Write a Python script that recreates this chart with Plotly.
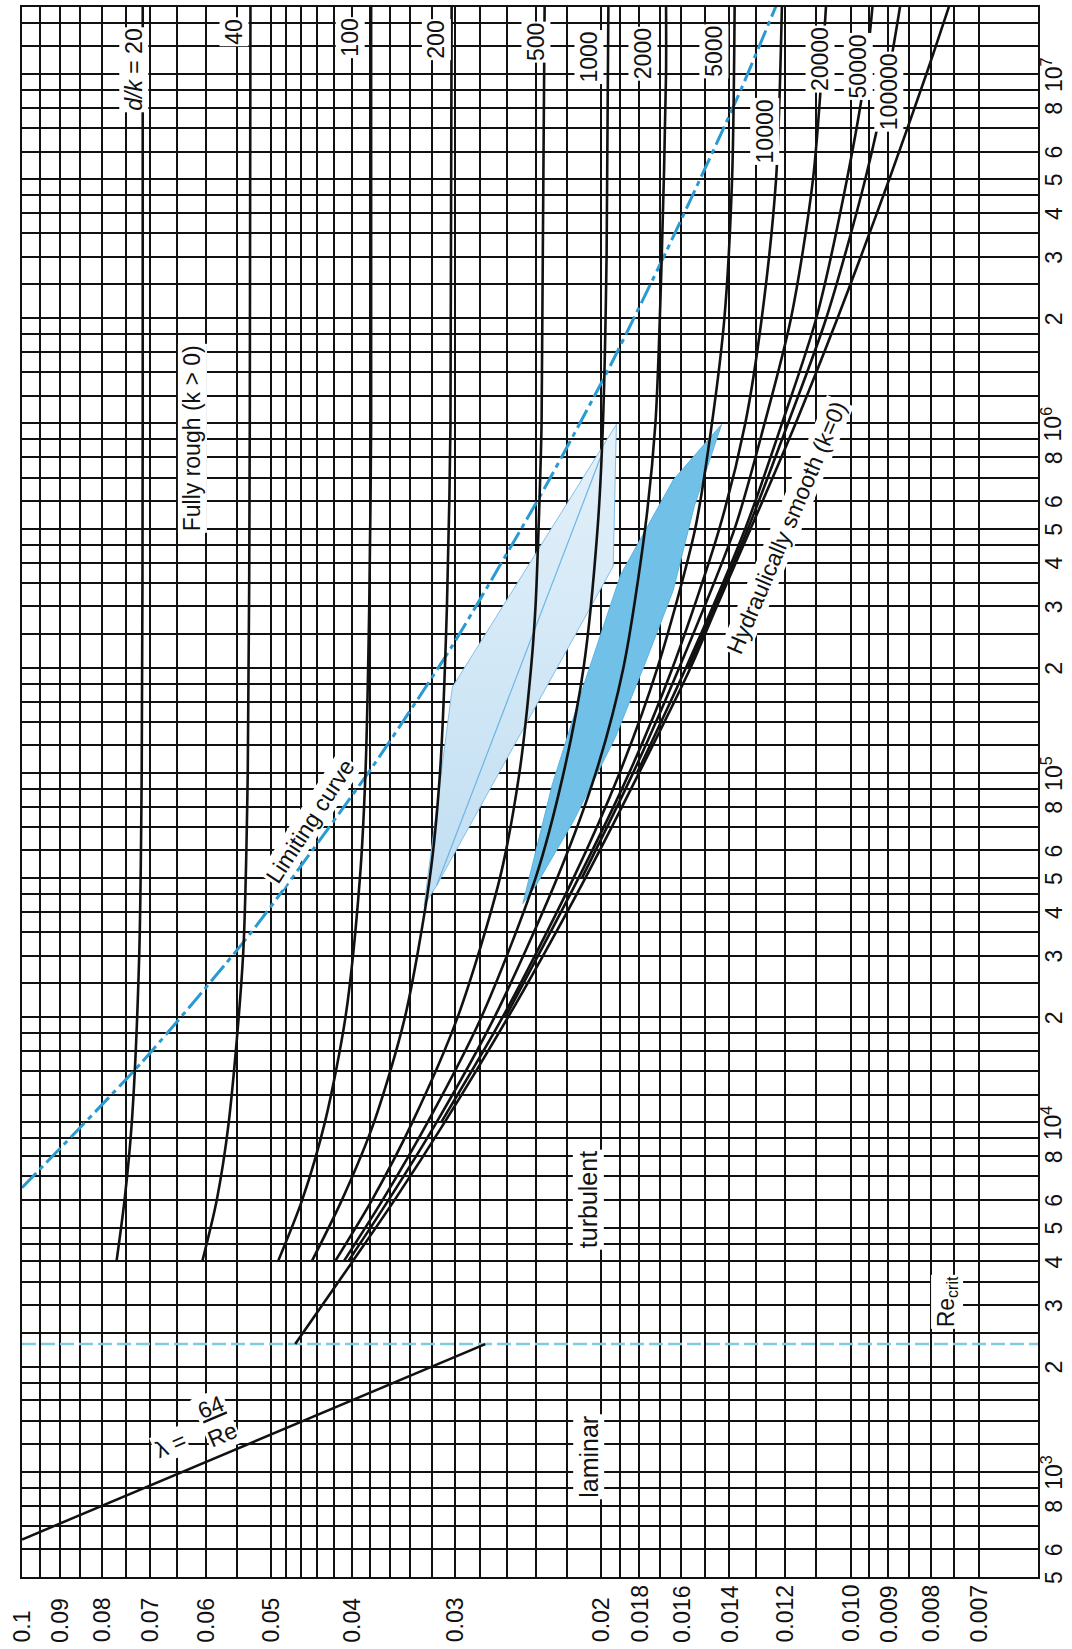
import math
import plotly.graph_objects as go

# ---------------- axis extents ----------------
LAM_LEFT, LAM_RIGHT = 0.1, 0.00594      # friction factor, reversed log axis
RE_BOTTOM, RE_TOP = 500, 1.555e7        # Reynolds number, log axis

# ---------------- grid values ----------------
lam_grid = [0.1, 0.095, 0.09, 0.085, 0.08, 0.075, 0.07, 0.065, 0.06, 0.055, 0.05,
            0.048, 0.046, 0.044, 0.042, 0.04, 0.038, 0.036, 0.034, 0.032, 0.03,
            0.028, 0.026, 0.024, 0.022, 0.02, 0.019, 0.018, 0.017, 0.016, 0.015,
            0.014, 0.013, 0.012, 0.011, 0.010, 0.0095, 0.009, 0.0085, 0.008,
            0.0075, 0.007]
re_grid_mantissa = [1, 1.2, 1.4, 1.6, 1.8, 2, 2.5, 3, 3.5, 4, 4.5, 5, 6, 7, 8, 9]
re_grid_decades = [100, 1000, 10000, 100000, 1000000, 10000000]

# ---------------- tick labels ----------------
lam_tick_vals = [0.1, 0.09, 0.08, 0.07, 0.06, 0.05, 0.04, 0.03, 0.02, 0.018,
                 0.016, 0.014, 0.012, 0.010, 0.009, 0.008, 0.007]
lam_tick_text = ["0.1", "0.09", "0.08", "0.07", "0.06", "0.05", "0.04", "0.03",
                 "0.02", "0.018", "0.016", "0.014", "0.012", "0.010", "0.009",
                 "0.008", "0.007"]
re_tick_vals = [500, 600, 800, 1e3, 2e3, 3e3, 4e3, 5e3, 6e3, 8e3, 1e4,
                2e4, 3e4, 4e4, 5e4, 6e4, 8e4, 1e5, 2e5, 3e5, 4e5, 5e5, 6e5, 8e5,
                1e6, 2e6, 3e6, 4e6, 5e6, 6e6, 8e6, 1e7]
re_tick_text = ["5", "6", "8", "10<sup>3</sup>", "2", "3", "4", "5", "6", "8",
                "10<sup>4</sup>", "2", "3", "4", "5", "6", "8", "10<sup>5</sup>",
                "2", "3", "4", "5", "6", "8", "10<sup>6</sup>", "2", "3", "4", "5",
                "6", "8", "10<sup>7</sup>"]

# ---------------- laminar branch ----------------
re_laminar = [640, 2320]
lam_laminar = [0.1, 0.0276]

# ---------------- critical Reynolds number ----------------
re_crit = 2320

# ---------------- hydraulically smooth pipe ----------------
re_smooth = [2320, 4000, 6000, 1e4, 2e4, 3e4, 5e4, 1e5, 2e5, 3e5, 5e5, 1e6,
             2e6, 3e6, 5e6, 1e7, 1.6e7]
lam_smooth = [0.0468, 0.0399, 0.0355, 0.0309, 0.0259, 0.0235, 0.0209, 0.0180,
              0.0156, 0.0145, 0.0132, 0.01165, 0.01037, 0.00972, 0.00898,
              0.00810, 0.00758]

# ---------------- rough pipes, relative roughness d/k ----------------
re_dk20 = [4000, 6000, 1e4, 3e4, 1e5, 1e6, 1.6e7]
lam_dk20 = [0.0769, 0.0752, 0.0737, 0.0722, 0.0717, 0.0715, 0.0715]

re_dk40 = [4000, 6000, 1e4, 3e4, 1e5, 1e6, 1.6e7]
lam_dk40 = [0.0606, 0.0582, 0.0563, 0.0541, 0.0534, 0.0531, 0.0530]

re_dk100 = [4000, 6000, 1e4, 2e4, 5e4, 1e5, 3e5, 1e6, 1.6e7]
lam_dk100 = [0.0491, 0.0459, 0.0431, 0.0407, 0.0391, 0.0385, 0.0381, 0.0379, 0.0379]

re_dk200 = [4000, 6000, 1e4, 2e4, 5e4, 1e5, 3e5, 1e6, 1.6e7]
lam_dk200 = [0.0447, 0.0411, 0.0376, 0.0345, 0.0322, 0.0313, 0.0307, 0.0304, 0.0303]

re_dk500 = [4000, 6000, 1e4, 2e4, 5e4, 1e5, 2e5, 3e5, 5e5, 1e6, 1.6e7]
lam_dk500 = [0.0419, 0.0378, 0.0338, 0.0298, 0.0265, 0.0251, 0.0243, 0.0240,
             0.0238, 0.0236, 0.0234]

re_dk1000 = [4000, 6000, 1e4, 2e4, 5e4, 1e5, 2e5, 5e5, 1e6, 3e6, 1.6e7]
lam_dk1000 = [0.0409, 0.0367, 0.0324, 0.0279, 0.0240, 0.0222, 0.0210, 0.0202,
              0.0199, 0.0197, 0.0196]

re_dk2000 = [4000, 6000, 1e4, 2e4, 5e4, 1e5, 2e5, 5e5, 1e6, 3e6, 1e7, 1.6e7]
lam_dk2000 = [0.0404, 0.0361, 0.0316, 0.0269, 0.0226, 0.0203, 0.0188, 0.0177,
              0.0172, 0.0169, 0.0167, 0.0167]

re_dk5000 = [1e4, 2e4, 5e4, 1e5, 2e5, 5e5, 1e6, 2e6, 5e6, 1.6e7]
lam_dk5000 = [0.0312, 0.0263, 0.0216, 0.0190, 0.0171, 0.0154, 0.0147, 0.0142,
              0.0139, 0.0138]

re_dk10000 = [2e4, 5e4, 1e5, 2e5, 5e5, 1e6, 2e6, 5e6, 1.6e7]
lam_dk10000 = [0.0261, 0.0213, 0.0185, 0.0164, 0.0144, 0.0134, 0.0128, 0.0123, 0.0121]

re_dk20000 = [5e4, 1e5, 2e5, 5e5, 1e6, 2e6, 5e6, 1.6e7]
lam_dk20000 = [0.0211, 0.0183, 0.0161, 0.0138, 0.0127, 0.0118, 0.0111, 0.0107]

re_dk50000 = [1e5, 2e5, 5e5, 1e6, 2e6, 5e6, 1e7, 1.6e7]
lam_dk50000 = [0.0181, 0.0158, 0.0134, 0.0121, 0.0110, 0.0101, 0.0096, 0.0094]

re_dk100000 = [2e5, 5e5, 1e6, 2e6, 5e6, 1e7, 1.6e7]
lam_dk100000 = [0.0157, 0.0133, 0.0119, 0.0107, 0.0096, 0.0090, 0.0087]

# ---------------- limiting curve (onset of fully rough flow) ----------------
re_limit = [6500, 14960, 34740, 102800, 229600, 653700, 1.428e6, 3.096e6,
            8.54e6, 1.83e7]
lam_limit = [0.1, 0.0715, 0.0530, 0.0379, 0.0303, 0.0234, 0.0196, 0.0167,
             0.0137, 0.01197]

# ---------------- shaded ranges ----------------
re_band_light = [41730, 176000, 994000, 390500, 47600, 41730]
lam_band_light = [0.03271, 0.03024, 0.01917, 0.01934, 0.03159, 0.03271]

re_band_light_edge = [47600, 830800]
lam_band_light_edge = [0.03159, 0.01991]

re_band_dark = [42300, 92520, 178500, 369400, 688900, 994000, 579400, 333000,
                212300, 126300, 72610, 47940, 42300]
lam_band_dark = [0.02486, 0.02291, 0.02099, 0.01894, 0.01637, 0.01431, 0.01544,
                 0.01637, 0.01761, 0.01923, 0.02161, 0.02393, 0.02486]

FONT = "Liberation Sans, Arial, Helvetica, sans-serif"
BLACK = "#111111"

fig = go.Figure()

# shaded ranges (under the curves)
fig.add_trace(go.Scatter(x=lam_band_light, y=re_band_light, mode="lines",
                         fill="toself",
                         fillgradient=dict(type="vertical",
                                           colorscale=[[0, "rgb(192,222,242)"],
                                                       [1, "rgb(228,241,250)"]]),
                         line=dict(color="rgba(120,185,228,0.9)", width=1)))
fig.add_trace(go.Scatter(x=lam_band_light_edge, y=re_band_light_edge, mode="lines",
                         line=dict(color="rgba(100,175,225,0.9)", width=1.2)))
fig.add_trace(go.Scatter(x=lam_band_dark, y=re_band_dark, mode="lines",
                         fill="toself", fillcolor="rgb(112,192,232)",
                         line=dict(color="rgb(90,180,226)", width=1)))

# critical Reynolds number
fig.add_trace(go.Scatter(x=[LAM_LEFT, LAM_RIGHT], y=[re_crit, re_crit], mode="lines",
                         line=dict(color="#7fcbe0", width=2.5, dash="14px,5px")))

# limiting curve
fig.add_trace(go.Scatter(x=lam_limit, y=re_limit, mode="lines",
                         line=dict(color="#2a9ad3", width=3,
                                   dash="20px,5px,5px,5px",
                                   shape="spline", smoothing=0.6)))

# laminar line
fig.add_trace(go.Scatter(x=lam_laminar, y=re_laminar, mode="lines",
                         line=dict(color=BLACK, width=2.5)))

curves = [
    (lam_dk20, re_dk20), (lam_dk40, re_dk40), (lam_dk100, re_dk100),
    (lam_dk200, re_dk200), (lam_dk500, re_dk500), (lam_dk1000, re_dk1000),
    (lam_dk2000, re_dk2000), (lam_dk5000, re_dk5000), (lam_dk10000, re_dk10000),
    (lam_dk20000, re_dk20000), (lam_dk50000, re_dk50000),
    (lam_dk100000, re_dk100000), (lam_smooth, re_smooth),
]
for lam_vals, re_vals in curves:
    fig.add_trace(go.Scatter(x=lam_vals, y=re_vals, mode="lines",
                             line=dict(color=BLACK, width=2.6, shape="spline",
                                       smoothing=0.8)))

annotations = []


def label(text, lam, re, angle=-90, size=23, bg="white", **kw):
    annotations.append(dict(x=math.log10(lam), y=math.log10(re), xref="x", yref="y",
                            text=text, textangle=angle, showarrow=False,
                            font=dict(family=FONT, size=size, color=BLACK),
                            bgcolor=bg, borderpad=1, **kw))


# friction factor tick labels (bottom)
for v, t in zip(lam_tick_vals, lam_tick_text):
    annotations.append(dict(x=math.log10(v), y=-0.043, xref="x", yref="paper",
                            text=t, textangle=-90, showarrow=False,
                            xanchor="center", yanchor="bottom",
                            font=dict(family=FONT, size=23, color=BLACK)))

# Reynolds number tick labels (right)
for v, t in zip(re_tick_vals, re_tick_text):
    annotations.append(dict(x=1.0305, y=math.log10(v), xref="paper", yref="y",
                            text=t, textangle=-90, showarrow=False,
                            xanchor="right", yanchor="middle",
                            font=dict(family=FONT, size=23, color=BLACK)))

# roughness labels at the top of each curve
label("<i>d/k</i> = 20", 0.0734, 1.03e7)
label("40", 0.0555, 1.32e7)
label("100", 0.0402, 1.27e7)
label("200", 0.0316, 1.25e7)
label("500", 0.0240, 1.23e7)
label("1000", 0.0207, 1.12e7)
label("2000", 0.0178, 1.14e7)
label("5000", 0.0146, 1.16e7)
label("10000", 0.0127, 6.83e6)
label("20000", 0.0109, 1.10e7)
label("50000", 0.0098, 1.05e7)
label("100000", 0.0090, 8.9e6)

# region labels
label("Fully rough (k &gt; 0)", 0.0622, 9.06e5)
label("Limiting curve", 0.0449, 72900, angle=-57)
label("Hydraulically smooth (k=0)", 0.01193, 5.04e5, angle=-67)
label("turbulent", 0.0207, 6018, size=25)
label("laminar", 0.0207, 1102, size=25)
label("Re<sub>crit</sub>", 0.00765, 3074)
label("λ =", 0.0662, 1192, angle=-23)
label("<u>64</u><br>Re", 0.0662, 1192, angle=-23, xshift=46, yshift=24)

grid_re = [m * d for d in re_grid_decades for m in re_grid_mantissa
           if RE_BOTTOM <= m * d <= RE_TOP]

fig.update_layout(
    width=1072, height=1649,
    margin=dict(l=22, r=34, t=5, b=72),
    paper_bgcolor="white", plot_bgcolor="white",
    showlegend=False,
    annotations=annotations,
    xaxis=dict(type="log", range=[math.log10(LAM_LEFT), math.log10(LAM_RIGHT)],
               tickvals=lam_grid, showticklabels=False, ticks="",
               showgrid=True, gridcolor=BLACK, gridwidth=1.8,
               showline=True, mirror=True, linecolor=BLACK, linewidth=2.2,
               zeroline=False),
    yaxis=dict(type="log", range=[math.log10(RE_BOTTOM), math.log10(RE_TOP)],
               tickvals=grid_re, showticklabels=False, ticks="",
               showgrid=True, gridcolor=BLACK, gridwidth=1.8,
               showline=True, mirror=True, linecolor=BLACK, linewidth=2.2,
               zeroline=False),
)

fig.write_html("out.html")
